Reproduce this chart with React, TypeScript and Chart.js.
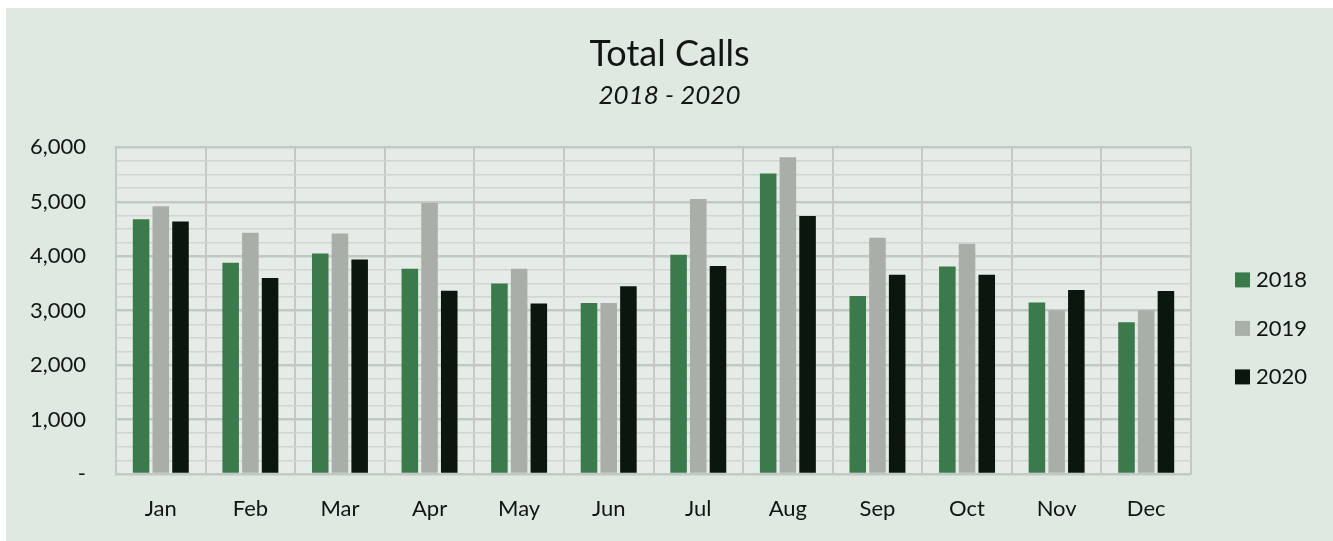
import React, { useEffect, useRef } from "react";
import { Chart, registerables } from "chart.js";

Chart.register(...registerables);

const months = ["Jan", "Feb", "Mar", "Apr", "May", "Jun", "Jul", "Aug", "Sep", "Oct", "Nov", "Dec"];
const seriesNames = ["2018", "2019", "2020"];
const calls2018 = [4680, 3880, 4050, 3770, 3500, 3140, 4030, 5520, 3270, 3810, 3150, 2790];
const calls2019 = [4920, 4430, 4420, 4980, 3770, 3140, 5050, 5820, 4340, 4230, 3010, 3010];
const calls2020 = [4640, 3600, 3940, 3365, 3130, 3450, 3820, 4740, 3660, 3660, 3380, 3360];
const yMax = 6000;
const yMinorStep = 250;
const yMajorStep = 1000;
const titleText = "Total Calls";
const subtitleText = "2018 - 2020";

const colors = ["#3b7a4b", "#a9aea8", "#0b170e"];
const FONT = "Lato, 'Open Sans', sans-serif";
const PANEL_BG = "#dfe8e1";
const PLOT_BG = "#e5ece7";
const GRID_MAJOR = "#c2c9c3";
const GRID_MINOR = "#cfd6d0";
const TEXT = "#121613";

export default function App() {
  const canvasRef = useRef<HTMLCanvasElement | null>(null);

  useEffect(() => {
    const canvas = canvasRef.current;
    if (!canvas) return;

    const plotBg = {
      id: "plotBg",
      beforeDraw(chart: any) {
        const { ctx, chartArea } = chart;
        ctx.save();
        ctx.fillStyle = PLOT_BG;
        ctx.fillRect(chartArea.left, chartArea.top, chartArea.right - chartArea.left, chartArea.bottom - chartArea.top);
        ctx.restore();
      },
    };

    const customLegend = {
      id: "customLegend",
      afterDraw(chart: any) {
        const { ctx, chartArea } = chart;
        ctx.save();
        ctx.font = `22px ${FONT}`;
        ctx.textBaseline = "middle";
        ctx.textAlign = "left";
        chart.data.datasets.forEach((ds: any, i: number) => {
          const y = chartArea.top + 132 + i * 48.5;
          const x = chartArea.right + 44;
          ctx.fillStyle = ds.backgroundColor;
          ctx.fillRect(x, y - 7, 15, 15);
          ctx.fillStyle = TEXT;
          ctx.fillText(ds.label, x + 21, y + 1);
        });
        ctx.restore();
      },
    };

    const chart = new Chart(canvas, {
      type: "bar",
      data: {
        labels: months,
        datasets: [calls2018, calls2019, calls2020].map((d, i) => ({
          label: seriesNames[i],
          data: d,
          backgroundColor: colors[i],
          borderWidth: 0,
          categoryPercentage: 0.66,
          barPercentage: 0.84,
        })),
      },
      options: {
        responsive: false,
        animation: false,
        devicePixelRatio: 1,
        layout: { padding: 0 },
        plugins: {
          legend: { display: false },
          tooltip: { enabled: false },
          title: {
            display: true,
            text: titleText,
            color: TEXT,
            font: { family: FONT, size: 36, weight: "normal" },
            padding: { top: 25, bottom: 0 },
          },
          subtitle: {
            display: true,
            text: subtitleText,
            color: TEXT,
            font: { family: FONT, size: 26, style: "italic", weight: "normal" },
            padding: { top: 4, bottom: 36 },
          },
        },
        scales: {
          x: {
            grid: { display: true, offset: true, color: GRID_MAJOR, lineWidth: 2, drawTicks: false },
            border: { display: true, color: GRID_MAJOR, width: 2 },
            ticks: { color: TEXT, font: { family: FONT, size: 22 }, padding: 22 },
            afterFit(scale: any) {
              scale.height = 67;
            },
          },
          y: {
            min: 0,
            max: yMax,
            grid: {
              drawTicks: false,
              color: (c: any) => (c.tick && c.tick.value % yMajorStep === 0 ? GRID_MAJOR : GRID_MINOR),
              lineWidth: (c: any) => (c.tick && c.tick.value % yMajorStep === 0 ? 2.5 : 1.5),
            },
            border: { display: true, color: GRID_MAJOR, width: 2 },
            ticks: {
              stepSize: yMinorStep,
              autoSkip: false,
              color: TEXT,
              font: { family: FONT, size: 22 },
              padding: 30,
              callback: (v: any) => {
                const n = Number(v);
                if (n % yMajorStep !== 0) return "";
                return n === 0 ? "-" : n.toLocaleString("en-US");
              },
            },
            afterFit(scale: any) {
              scale.width = 110;
            },
          },
          legendSpace: {
            type: "linear",
            position: "right",
            display: true,
            grid: { display: false, drawTicks: false },
            border: { display: false },
            ticks: { display: false },
            afterFit(scale: any) {
              scale.width = 142;
            },
          },
        },
      },
      plugins: [plotBg, customLegend],
    });

    return () => chart.destroy();
  }, []);

  return (
    <div
      style={{
        position: "absolute",
        left: 6,
        top: 8,
        width: 1327,
        height: 533,
        background: PANEL_BG,
      }}
    >
      <canvas ref={canvasRef} width={1327} height={533} style={{ display: "block" }} />
    </div>
  );
}
